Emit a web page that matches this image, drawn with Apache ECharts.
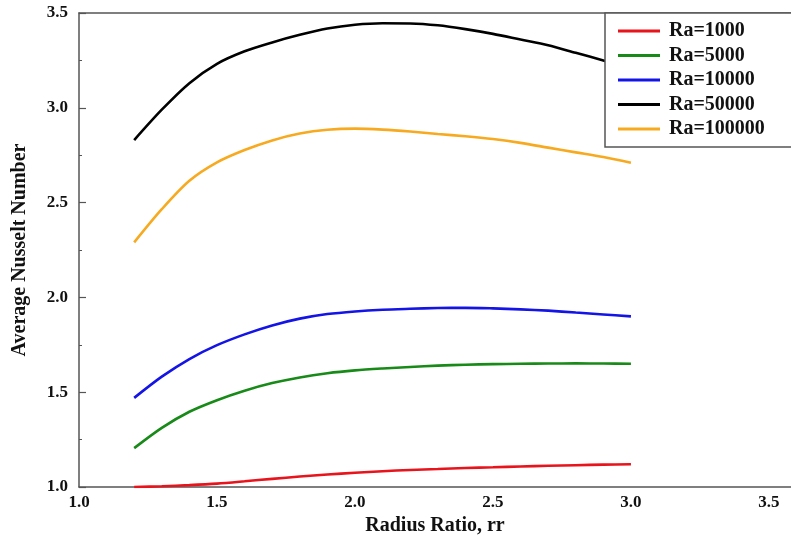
<!DOCTYPE html>
<html>
<head>
<meta charset="utf-8">
<script src="https://cdn.jsdelivr.net/npm/echarts@6/dist/echarts.min.js"></script>
<style>html,body{margin:0;padding:0;background:#fff}#c{width:791px;height:538px}</style>
</head>
<body>
<div id="c"></div>
<script>
const xValues = [1.2, 1.3, 1.4, 1.5, 1.6, 1.7, 1.8, 1.9, 2.0, 2.1, 2.2, 2.3, 2.4, 2.5, 2.6, 2.7, 2.8, 2.9, 3.0];
const seriesNames = ['Ra=1000', 'Ra=5000', 'Ra=10000', 'Ra=50000', 'Ra=100000'];
const ra1000   = [1.0, 1.004, 1.01, 1.018, 1.03, 1.043, 1.055, 1.066, 1.075, 1.083, 1.09, 1.095, 1.10, 1.104, 1.108, 1.112, 1.115, 1.118, 1.12];
const ra5000   = [1.205, 1.312, 1.397, 1.458, 1.508, 1.548, 1.578, 1.60, 1.615, 1.625, 1.633, 1.64, 1.645, 1.648, 1.65, 1.651, 1.652, 1.651, 1.65];
const ra10000  = [1.47, 1.582, 1.675, 1.748, 1.805, 1.852, 1.888, 1.912, 1.926, 1.935, 1.94, 1.944, 1.945, 1.942, 1.937, 1.93, 1.92, 1.91, 1.90];
const ra50000  = [2.83, 2.99, 3.13, 3.232, 3.298, 3.345, 3.385, 3.418, 3.438, 3.446, 3.445, 3.435, 3.415, 3.39, 3.36, 3.33, 3.29, 3.25, 3.21];
const ra100000 = [2.29, 2.465, 2.615, 2.712, 2.777, 2.828, 2.864, 2.884, 2.89, 2.885, 2.875, 2.862, 2.85, 2.835, 2.815, 2.79, 2.765, 2.74, 2.71];
const yTicks = [1.0, 1.5, 2.0, 2.5, 3.0, 3.5];
const xTicks = [1.0, 1.5, 2.0, 2.5, 3.0, 3.5];

const colors = ['#e8131b', '#178a17', '#1414e6', '#000000', '#f7aa1f'];
const allData = [ra1000, ra5000, ra10000, ra50000, ra100000];
const font = 'Liberation Serif';

const chart = echarts.init(document.getElementById('c'), null, {renderer: 'canvas'});
chart.setOption({
  animation: false,
  backgroundColor: '#fff',
  grid: {left: 79, right: 0, top: 13, bottom: 51, outerBoundsMode: 'none', containLabel: false},
  legend: {
    data: seriesNames,
    orient: 'vertical',
    left: 605, top: 13,
    padding: [8, 40, 8, 13],
    itemWidth: 42, itemHeight: 3, itemGap: 4.5,
    icon: 'rect',
    borderColor: '#555', borderWidth: 1.5,
    backgroundColor: '#fff',
    textStyle: {fontFamily: font, fontWeight: 'bold', fontSize: 20, color: '#111', padding: [0,0,0,4]}
  },
  xAxis: [{
    type: 'value', min: 1.0, max: 3.58, interval: 0.5,
    name: 'Radius Ratio, rr', nameLocation: 'middle', nameGap: 28,
    nameTextStyle: {fontFamily: font, fontWeight: 'bold', fontSize: 20, color: '#111'},
    axisLine: {show: true, lineStyle: {color: '#555', width: 1.5}},
    axisTick: {show: false},
    splitLine: {show: false},
    axisLabel: {
      margin: 7, fontFamily: font, fontWeight: 'bold', fontSize: 17, color: '#111',
      formatter: v => xTicks.some(t => Math.abs(t - v) < 1e-6) ? v.toFixed(1) : ''
    }
  }, {
    type: 'value', min: 1.0, max: 3.58, position: 'top',
    axisLine: {show: true, lineStyle: {color: '#555', width: 1.5}},
    axisTick: {show: false}, axisLabel: {show: false}, splitLine: {show: false}
  }],
  yAxis: {
    type: 'value', min: 1.0, max: 3.5, interval: 0.5,
    name: 'Average Nusselt Number', nameLocation: 'middle', nameGap: 49,
    nameTextStyle: {fontFamily: font, fontWeight: 'bold', fontSize: 20, color: '#111'},
    axisLine: {show: true, lineStyle: {color: '#555', width: 1.5}},
    axisTick: {show: true, inside: true, length: 7, lineStyle: {color: '#555', width: 1.2}},
    minorTick: {show: true, splitNumber: 2, length: 3, lineStyle: {color: '#555', width: 1}},
    splitLine: {show: false},
    axisLabel: {
      margin: 11, fontFamily: font, fontWeight: 'bold', fontSize: 17, color: '#111',
      formatter: v => yTicks.some(t => Math.abs(t - v) < 1e-6) ? v.toFixed(1) : ''
    }
  },
  series: seriesNames.map((n, i) => ({
    name: n, type: 'line', smooth: 0.3, symbol: 'none',
    data: xValues.map((x, j) => [x, allData[i][j]]),
    lineStyle: {color: colors[i], width: 2.6},
    itemStyle: {color: colors[i]},
    z: i === 3 ? 1 : 2
  }))
});
</script>
</body>
</html>
